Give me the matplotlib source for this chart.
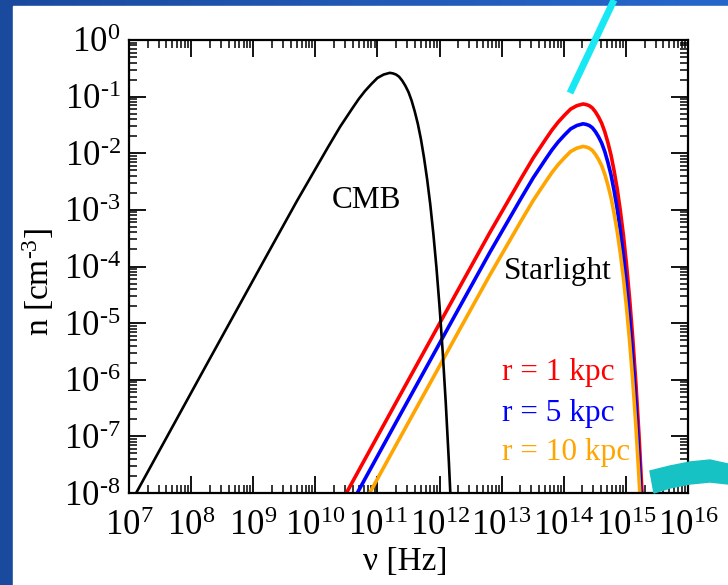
import numpy as np
import matplotlib.pyplot as plt
from matplotlib.patches import Rectangle, Polygon
from matplotlib.lines import Line2D
from matplotlib.colors import LinearSegmentedColormap
from matplotlib.ticker import LogLocator, FuncFormatter, NullFormatter

plt.rcParams['font.family'] = 'Liberation Serif'
plt.rcParams['mathtext.fontset'] = 'custom'
plt.rcParams['mathtext.rm'] = 'Liberation Serif'
plt.rcParams['mathtext.it'] = 'Liberation Serif:italic'

# photon number densities, log10 values
cmb_lognu = [7.10, 8.2, 9.2, 9.7, 10.2, 10.4, 10.6, 10.7, 10.8, 10.9, 11.0, 11.1,
             11.2, 11.25, 11.3, 11.35, 11.4, 11.45, 11.5, 11.55, 11.6, 11.65, 11.7,
             11.75, 11.8, 11.85, 11.9, 11.95, 12.0, 12.05, 12.1, 12.15, 12.2]
cmb_logn = [-8.03, -5.83, -3.84, -2.85, -1.90, -1.53, -1.20, -1.04, -0.90, -0.78,
            -0.67, -0.61, -0.58, -0.59, -0.61, -0.65, -0.72, -0.81, -0.92, -1.07,
            -1.26, -1.48, -1.75, -2.08, -2.46, -2.90, -3.42, -4.02, -4.71, -5.50,
            -6.41, -7.45, -8.63]

star_lognu = [10.31, 11.31, 12.31, 12.81, 13.31, 13.51, 13.71, 13.81, 13.91, 14.01,
              14.11, 14.21, 14.31, 14.36, 14.41, 14.46, 14.51, 14.56, 14.61, 14.66,
              14.71, 14.76, 14.81, 14.86, 14.91, 14.96, 15.01, 15.06, 15.11, 15.16,
              15.21, 15.26, 15.31]
star_logn_1kpc = [-8.38, -6.38, -4.39, -3.40, -2.45, -2.08, -1.75, -1.59, -1.45, -1.33,
                  -1.22, -1.16, -1.13, -1.14, -1.16, -1.20, -1.27, -1.36, -1.47, -1.62,
                  -1.81, -2.03, -2.31, -2.63, -3.01, -3.45, -3.97, -4.57, -5.26, -6.05,
                  -6.96, -8.00, -9.18]
star_logn_5kpc = [-8.73, -6.73, -4.74, -3.75, -2.80, -2.43, -2.10, -1.94, -1.80, -1.68,
                  -1.57, -1.51, -1.48, -1.49, -1.51, -1.55, -1.62, -1.71, -1.82, -1.97,
                  -2.16, -2.38, -2.66, -2.98, -3.36, -3.80, -4.32, -4.92, -5.61, -6.40,
                  -7.31, -8.35, -9.53]
star_logn_10kpc = [-9.13, -7.13, -5.14, -4.15, -3.20, -2.83, -2.50, -2.34, -2.20, -2.08,
                   -1.97, -1.91, -1.88, -1.89, -1.91, -1.95, -2.02, -2.11, -2.22, -2.37,
                   -2.56, -2.78, -3.06, -3.38, -3.76, -4.20, -4.72, -5.32, -6.01, -6.80,
                   -7.71, -8.75, -9.93]

star_labels = ['r = 1 kpc', 'r = 5 kpc', 'r = 10 kpc']
star_colors = ['#ff0000', '#0000ff', '#ffa500']

W, H = 728, 585
fig = plt.figure(figsize=(W / 100, H / 100), dpi=100)

# slide background: blue frame with white panel
bg = fig.add_axes([0, 0, 1, 1], zorder=-2)
bg.set_axis_off()
grad = np.linspace(0, 1, 256).reshape(1, -1)
slide_cmap = LinearSegmentedColormap.from_list('slide', ['#1a4a9e', '#2767cc'])
bg.imshow(grad, extent=[0, 1, 0, 1], aspect='auto', cmap=slide_cmap)
bg.add_patch(Rectangle((13 / W, 0), 1, 1 - 6 / H, color='white'))
bg.set_xlim(0, 1)
bg.set_ylim(0, 1)

ax = fig.add_axes([129 / W, 1 - 493 / H, 559 / W, 453 / H])
ax.set_facecolor('white')

for logn, c in zip([star_logn_1kpc, star_logn_5kpc, star_logn_10kpc], star_colors):
    ax.plot(10.0 ** np.array(star_lognu), 10.0 ** np.array(logn), color=c, lw=2.6)
ax.plot(10.0 ** np.array(cmb_lognu), 10.0 ** np.array(cmb_logn), color='black', lw=1.9)

ax.set_xscale('log')
ax.set_yscale('log')
ax.set_xlim(1e7, 1e16)
ax.set_ylim(1e-8, 1)


def pow_label(v, pos):
    e = int(round(np.log10(v)))
    if e < 0:
        return r'$10^{\text{-}%d}$' % -e
    return r'$10^{%d}$' % e


for axis in (ax.xaxis, ax.yaxis):
    axis.set_major_locator(LogLocator(base=10, numticks=20))
    axis.set_minor_locator(LogLocator(base=10, subs=np.arange(2, 10), numticks=200))
    axis.set_major_formatter(FuncFormatter(pow_label))
    axis.set_minor_formatter(NullFormatter())

ax.tick_params(which='both', direction='in', top=True, right=True)
ax.tick_params(which='major', length=12, width=1.3, labelsize=25)
ax.tick_params(axis='x', which='major', pad=12)
ax.tick_params(axis='y', which='major', pad=6)
ax.tick_params(which='minor', length=6, width=1.1)
for s in ax.spines.values():
    s.set_linewidth(1.6)

ax.set_xlabel(r'ν [Hz]', fontsize=24)
ax.set_ylabel(r'n [cm$^{\text{-}3}$]', fontsize=24)
ax.xaxis.set_label_coords(0.494, -0.118)
ax.yaxis.set_label_coords(-0.13, 0.466)

ax.text(10 ** 10.82, 10 ** -2.84, 'CMB', ha='center', va='center', fontsize=22.5)
ax.text(10 ** 13.91, 10 ** -4.08, 'Starlight', ha='center', va='center', fontsize=22.5)
for lbl, c, y in zip(star_labels, star_colors, [-5.88, -6.59, -7.28]):
    ax.text(10 ** 13.01, 10 ** y, lbl, color=c, ha='left', va='center', fontsize=22.5)

# slide decorations on top of the chart
fig.add_artist(Line2D([614 / W, 570 / W], [1, 1 - 93 / H], color='#18e8f4', lw=5,
                      solid_capstyle='butt', transform=fig.transFigure, zorder=10))
wave = [(650, 471), (670, 466), (690, 462), (710, 460), (728, 464),
        (728, 484), (710, 482), (690, 484), (670, 488), (654, 493)]
fig.add_artist(Polygon([(x / W, 1 - y / H) for x, y in wave], closed=True,
                       color='#16c2c4', transform=fig.transFigure, zorder=10))

fig.savefig('out.png', dpi=100)
